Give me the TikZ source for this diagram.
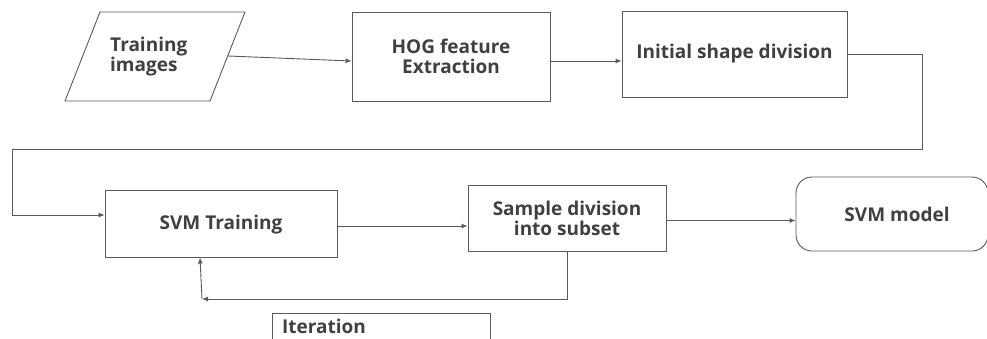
\documentclass[tikz,border=0pt]{standalone}
\usepackage{fontspec}
\setmainfont{Open Sans}
\usetikzlibrary{arrows.meta}
\definecolor{txt}{HTML}{404040}
\definecolor{ln}{HTML}{5A5A5A}
\tikzset{
  box/.style={draw=ln, line width=0.9pt, inner sep=0pt},
  lbl/.style={text=txt, font=\fontsize{19}{20}\selectfont\bfseries, align=center, inner sep=0pt},
  arr/.style={draw=ln, line width=0.9pt, -{Latex[length=6pt,width=5pt]}},
  conn/.style={draw=ln, line width=0.9pt},
}
\begin{document}
\begin{tikzpicture}[x=1pt,y=-1pt]
\useasboundingbox (0,0) rectangle (987,339);
\clip (0,0) rectangle (987,339);
% parallelogram
\coordinate (p1) at (100,12);
\coordinate (p2) at (245,12);
\coordinate (p3) at (210,101);
\coordinate (p4) at (65,101);
\draw[conn] (p1) -- (p2) -- (p3) -- (p4) -- cycle;
\coordinate (tr) at (228,56);
\node[lbl, align=left, anchor=west] (train) at (110,57) {Training\\images};
% boxes
\node[box, minimum width=198pt, minimum height=89pt] (hog) at (451,56.5) {};
\node[lbl] at (hog) {HOG feature\\Extraction};
\node[box, minimum width=225pt, minimum height=86pt] (init) at (734.5,54) {};
\node[lbl] at (init) {Initial shape division};
\node[box, minimum width=232pt, minimum height=67pt] (svm) at (221,223.5) {};
\node[lbl] at (221,225) {SVM Training};
\node[box, minimum width=198pt, minimum height=66pt] (samp) at (567,218) {};
\node[lbl] at (567,218) {Sample division\\into subset};
\node[box, rounded corners=16pt, minimum width=192pt, minimum height=74pt] (model) at (892,214) {};
\node[lbl] at (897,214) {SVM model};
\node[box, minimum width=218pt, minimum height=60pt, anchor=north west] (iter) at (272,313) {};
\node[text=txt, font=\fontsize{19}{20}\selectfont\bfseries, anchor=base west, inner sep=0pt] at (282,333) {Iteration};
% connectors
\draw[arr] (tr) -- ([yshift=-4.5pt]hog.west);
\draw[arr] ([yshift=-4.5pt]hog.east) -- ([yshift=-4.5pt]hog.east -| init.west);
\coordinate (c1) at (922,149);
\coordinate (c2) at (12,149);
\coordinate (c3) at (12,215);
\draw[conn] (init.east) -| (c1) -- (c2) -- (c3);
\draw[arr] (c3) -- (c3 -| svm.west);
\draw[arr] ([yshift=-2.5pt]svm.east) -- ([yshift=-2.5pt]svm.east -| samp.west);
\draw[arr] ([yshift=-2.5pt]samp.east) -- ([yshift=-2.5pt]samp.east -| model.west);
\coordinate (c4) at (202,299);
\draw[arr] (samp.south) |- (c4);
\draw[arr] (c4) -- (200,257.5);
\end{tikzpicture}
\end{document}
